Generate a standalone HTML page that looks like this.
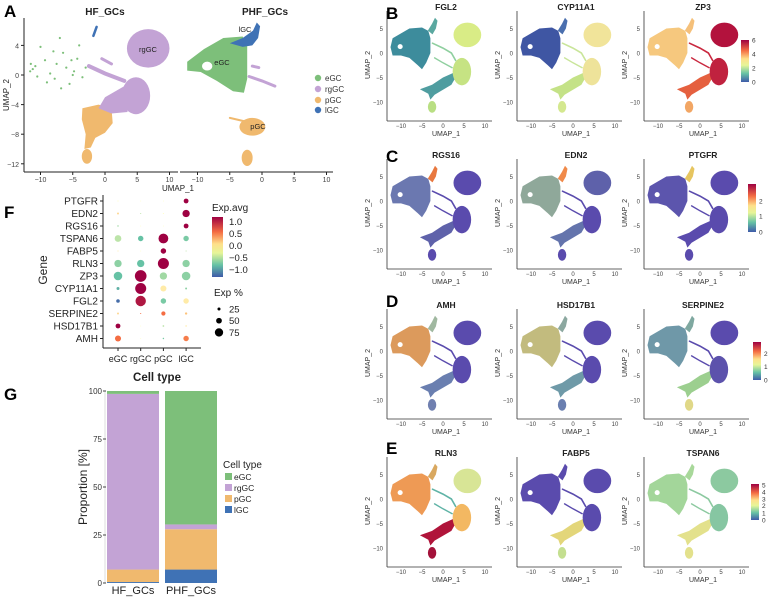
<!DOCTYPE html>
<html><head><meta charset="utf-8">
<style>
html,body{margin:0;padding:0;background:#fff;}
svg{display:block;font-family:"Liberation Sans",Arial,sans-serif;}
</style></head>
<body>
<svg id="fig" width="768" height="597" viewBox="0 0 768 597" xmlns="http://www.w3.org/2000/svg">
<defs>
<linearGradient id="spec" x1="0" y1="1" x2="0" y2="0">
<stop offset="0" stop-color="#3f5ba9"/><stop offset="0.2" stop-color="#66c2a5"/><stop offset="0.4" stop-color="#e6f598"/><stop offset="0.55" stop-color="#fee08b"/><stop offset="0.75" stop-color="#f46d43"/><stop offset="1" stop-color="#9e0142"/>
</linearGradient>
</defs>
<g id="panelA"></g>
<g id="umaps"></g>
<g id="dotplot"></g>
<g id="barchart"></g>
<g font-weight="bold" font-size="17" fill="#000">
<text x="4" y="17">A</text>
<text x="386" y="19">B</text>
<text x="386" y="162">C</text>
<text x="386" y="307">D</text>
<text x="386" y="454">E</text>
<text x="4" y="218">F</text>
<text x="4" y="400">G</text>
</g>
</svg>
<script>
// ---- Panel F data ----
const fGenes = ["PTGFR","EDN2","RGS16","TSPAN6","FABP5","RLN3","ZP3","CYP11A1","FGL2","SERPINE2","HSD17B1","AMH"];
const fCells = ["eGC","rgGC","pGC","lGC"];
const fPct = [
 [5,3,3,35],[12,5,5,55],[8,3,3,35],[50,40,75,40],[5,3,40,5],[55,55,85,55],
 [65,90,55,65],[20,85,45,12],[25,80,40,40],[12,5,30,15],[35,3,10,8],[45,3,8,40]];
const fAvg = [
 [0,0,0,1.3],[0.2,-0.2,0,1.3],[-0.3,0,0,1.3],[-0.2,-0.6,1.3,-0.5],[0.1,0,1.3,-0.2],[-0.4,-0.6,1.3,-0.4],
 [-0.6,1.3,-0.3,-0.4],[-0.7,1.3,0.1,-0.4],[-1.1,1.2,-0.5,0.1],[0.2,0.8,0.8,0.3],[1.3,0,-0.2,0.1],[0.8,0,-0.5,0.7]];
const fColorTicks = [1.0,0.5,0.0,-0.5,-1.0];
const fSizeTicks = [25,50,75];
// ---- Panel G data ----
const gSamples = ["HF_GCs","PHF_GCs"];
const gTypes = ["lGC","pGC","rgGC","eGC"];
const gValues = { lGC:[0.5,7], pGC:[6.5,21], rgGC:[91.5,2.5], eGC:[1.5,69.5] };
const gTicks = [0,25,50,75,100];

const NS="http://www.w3.org/2000/svg";
function mk(parent,tag,attrs,text){const e=document.createElementNS(NS,tag);for(const k in attrs)e.setAttribute(k,attrs[k]);if(text!==undefined)e.textContent=text;parent.appendChild(e);return e;}

const CT={eGC:"#7dbf7a",rgGC:"#c3a3d5",pGC:"#f0b96e",lGC:"#3f72b5"};

// ---------- Panel A ----------
const A=document.getElementById('panelA');
function axesA(x0,left,right){return {sx:u=>x0+u*6.45, sy:v=>75-v*7.4, left, right};}
function poly(g,ax,pts,fill,name){const d=pts.map((p,i)=>(i?'L':'M')+ax.sx(p[0]).toFixed(1)+','+ax.sy(p[1]).toFixed(1)).join('')+'Z';const e=mk(g,'path',{d,fill});return e;}
function ell(g,ax,cx,cy,rx,ry,fill,name,sx,sy){const e=mk(g,'ellipse',{cx:ax.sx(cx),cy:ax.sy(cy),rx:rx*sx,ry:ry*sy,fill});return e;}
function strip(g,ax,pts,color,w,name){const d=pts.map((p,i)=>(i?'L':'M')+ax.sx(p[0]).toFixed(1)+','+ax.sy(p[1]).toFixed(1)).join('');const e=mk(g,'path',{d,stroke:color,'stroke-width':w,fill:'none','stroke-linecap':'round'});}

const hf=axesA(105,24,178), phf=axesA(262,180,333);
poly(A,hf,[[-3.5,-4.5],[-1,-4],[1,-4.5],[1.2,-6.5],[0,-7.8],[-1.5,-8.5],[-2.2,-9.8],[-3.2,-10],[-3,-8],[-3.6,-6]],CT.pGC,'hf-pgc-cluster');
ell(A,hf,-2.8,-11,0.8,1,CT.pGC,'hf-pgc-bottom',6.45,7.4);
ell(A,hf,6.7,3.6,3.3,2.6,CT.rgGC,'hf-rggc-top',6.45,7.4);
ell(A,hf,4.8,-2.8,2.2,2.5,CT.rgGC,'hf-rggc-mid',6.45,7.4);
poly(A,hf,[[0,-3],[3,-1.5],[3.5,-5],[1,-5.2],[-1,-4.5]],CT.rgGC,'hf-rggc-arm');
strip(A,hf,[[-2.5,1.2],[0,0.2],[3,-0.8]],CT.rgGC,4,'hf-rggc-strip');
strip(A,hf,[[-0.5,2.2],[1,1.5]],CT.rgGC,3,'hf-rggc-strip2');
strip(A,hf,[[-1.8,5.3],[-1.3,6.5]],CT.lGC,2.5,'hf-lgc-cluster');
const hfDots=[[-11.5,1.5],[-11.2,0.8],[-11.6,0.5],[-10,3.8],[-9.3,2],[-8.5,0.2],[-7.8,-0.5],[-7,5],[-6.5,3],[-6,1],[-5.5,-1.2],[-4.8,0.5],[-4.3,2.2],[-3.5,-0.3],[-9,-1],[-10.5,-0.2],[-6.8,-1.8],[-4,4],[-8,3.2],[-5.2,2],[-3,1],[-10.8,1.2],[-7.5,1.5],[-5,0]];
hfDots.forEach(p=>{const c=mk(A,'circle',{cx:hf.sx(p[0]),cy:hf.sy(p[1]),r:1.1,fill:CT.eGC});});
poly(A,phf,[[-11.6,1.8],[-9,3.5],[-6,5],[-3,5.2],[-2.3,4],[-2.3,-0.5],[-2.8,-2.4],[-4.5,-2.2],[-7,-0.8],[-9.5,0.4],[-11.6,0.6]],CT.eGC,'phf-egc-cluster');
ell(A,phf,-8.5,1.2,0.8,0.6,'#fff','phf-egc-hole',6.45,7.4);
poly(A,phf,[[-5,4.3],[-3,5],[-1.4,6],[-0.8,7.1],[-0.3,6.6],[-0.6,5],[-1.5,4],[-3,3.8]],CT.lGC,'phf-lgc-cluster');
ell(A,phf,-1.5,-7,2,1.2,CT.pGC,'phf-pgc-cluster',6.45,7.4);
strip(A,phf,[[-5,-5.8],[-2.5,-6.3]],CT.pGC,2,'phf-pgc-tail');
ell(A,phf,-2.3,-11.2,0.85,1.1,CT.pGC,'phf-pgc-bottom',6.45,7.4);
strip(A,phf,[[-2,-0.2],[0,-0.8],[2,-1.5]],CT.rgGC,3,'phf-rggc-strip');
strip(A,phf,[[-1.5,1.2],[-0.5,1]],CT.rgGC,3,'phf-rggc-strip2');
const aAx=mk(A,'g',{stroke:'#222','stroke-width':1});

mk(aAx,'line',{x1:24,y1:18,x2:24,y2:172});
mk(aAx,'line',{x1:24,y1:172,x2:178,y2:172});
mk(aAx,'line',{x1:180,y1:172,x2:333,y2:172});
[4,0,-4,-8,-12].forEach(v=>{mk(aAx,'line',{x1:21,x2:24,y1:hf.sy(v),y2:hf.sy(v)});const t=mk(A,'text',{x:19,y:hf.sy(v)+3,'font-size':7,'text-anchor':'end',fill:'#444'},v===0?'0':(v<0?'−'+(-v):v));});
[[hf],[phf]].forEach(([ax])=>{[-10,-5,0,5,10].forEach(v=>{mk(aAx,'line',{x1:ax.sx(v),x2:ax.sx(v),y1:172,y2:175});const t=mk(A,'text',{x:ax.sx(v),y:182,'font-size':7,'text-anchor':'middle',fill:'#444'},v<0?'−'+(-v):v);});});
function lbl(g,x,y,s,txt,name,extra){const t=mk(g,'text',Object.assign({x,y,'font-size':s,'text-anchor':'middle',fill:'#222'},extra||{}),txt);return t;}
lbl(A,105,15,10,'HF_GCs','hf-title',{'font-weight':'bold'});
lbl(A,265,15,10,'PHF_GCs','phf-title',{'font-weight':'bold'});
lbl(A,178,191,8,'UMAP_1','a-x-axis-title');
lbl(A,0,0,8,'UMAP_2','a-y-axis-title',{transform:'translate(9,95) rotate(-90)'});
lbl(A,148,52,7.5,'rgGC','label-rggc');
lbl(A,222,65,7.5,'eGC','label-egc');
lbl(A,245,32,7.5,'lGC','label-lgc');
lbl(A,258,129,7.5,'pGC','label-pgc');
[['eGC',78],['rgGC',89],['pGC',100],['lGC',110]].forEach(([k,y])=>{const c=mk(A,'circle',{cx:318,cy:y,r:3.2,fill:CT[k]});const t=mk(A,'text',{x:325,y:y+3,'font-size':8,fill:'#333'},k);});

// ---------- Gene UMAP panels ----------
const U=document.getElementById('umaps');
const rowsY0=[53,201,351,499];
const colsX0=[443,573,700];
const P='#5a4bad';
const panels=[
 ['FGL2',{left:'#3d8c9c',spike:'#5aa8a0',top:'#d9ec86',mid:'#c6e383',bridge:'#8fcf9f',arm:'#4f9da0',bottom:'#b9df83'}],
 ['CYP11A1',{left:'#3f56a3',spike:'#4b6fae',top:'#f1e49a',mid:'#eee39a',bridge:'#c9e59a',arm:'#c4e287',bottom:'#d4e88f'}],
 ['ZP3',{left:'#f6c87e',spike:'#f5c07a',top:'#b3123d',mid:'#c0223f',bridge:'#c9283f',arm:'#e5603f',bottom:'#f2a664'}],
 ['RGS16',{left:'#6b78b0',spike:'#e8783f',top:P,mid:P,bridge:P,arm:'#5f62aa',bottom:P}],
 ['EDN2',{left:'#8fa89a',spike:'#f08a4a',top:'#5e61aa',mid:P,bridge:P,arm:'#6474ac',bottom:P}],
 ['PTGFR',{left:'#5c55ad',spike:'#e6c560',top:P,mid:P,bridge:P,arm:P,bottom:P}],
 ['AMH',{left:'#dc9a5c',spike:'#a0b8a0',top:P,mid:P,bridge:P,arm:'#6a7fb0',bottom:'#7080b0'}],
 ['HSD17B1',{left:'#c2bb7e',spike:'#8ca8a0',top:P,mid:P,bridge:P,arm:'#6f9aa8',bottom:'#6a7fb0'}],
 ['SERPINE2',{left:'#6f98a8',spike:'#7fa8a0',top:P,mid:'#5c52ac',bridge:P,arm:'#9ccf8f',bottom:'#e0d888'}],
 ['RLN3',{left:'#ee9a55',spike:'#d9a860',top:'#d8e596',mid:'#f3b862',bridge:'#5fb3a6',arm:'#b0143a',bottom:'#a3123a'}],
 ['FABP5',{left:P,spike:P,top:P,mid:P,bridge:P,arm:'#e3d67a',bottom:'#c4df90'}],
 ['TSPAN6',{left:'#a3d69a',spike:'#a8d89a',top:'#8cc9a0',mid:'#86c6a2',bridge:'#8cc9a0',arm:'#e3e18c',bottom:'#e3e18c'}]
];
const cbars=[{y:40,h:42,x:741,ticks:[['6',0],['4',0.33],['2',0.67],['0',1]]},
 {y:184,h:48,x:748,ticks:[['2',0.35],['1',0.67],['0',1]]},
 {y:342,h:38,x:753,ticks:[['2',0.3],['1',0.65],['0',1]]},
 {y:484,h:36,x:751,ticks:[['5',0.03],['4',0.22],['3',0.42],['2',0.6],['1',0.8],['0',1]]}];
panels.forEach((pp,i)=>{
 const r=Math.floor(i/3),c=i%3,x0=colsX0[c],y0=rowsY0[r];
 const ax={sx:u=>x0+u*4.2,sy:v=>y0-v*4.9};
 const g=mk(U,'g',{});
 const col=pp[1];
 strip(g,ax,[[-2.5,2],[0,1],[2,0],[3,-1.5]],col.bridge,1.6,'umap-bridge');
 strip(g,ax,[[-2,-1],[0,-2],[2.2,-3]],col.bridge,1.4,'umap-bridge2');
 poly(g,ax,[[3,-5],[2,-6.5],[0,-7.5],[-2,-8.5],[-3,-9.5],[-3.5,-8.3],[-5.5,-7.4],[-2.6,-6.5],[0,-5],[2.6,-4]],col.arm,'umap-arm');
 ell(g,ax,-2.6,-11,1,1.2,col.bottom,'umap-bottom-cluster',4.2,4.9);
 ell(g,ax,4.5,-3.8,2.2,2.8,col.mid,'umap-mid-cluster',4.2,4.9);
 ell(g,ax,5.8,3.7,3.3,2.5,col.top,'umap-top-cluster',4.2,4.9);
 poly(g,ax,[[-12.5,1.2],[-12,3],[-10,4],[-8,5],[-5,5.2],[-3.5,4.5],[-3,3],[-3,0],[-4,-2],[-5,-3.3],[-6,-2.5],[-8,-1],[-10,-0.5],[-12,-0.5]],col.left,'umap-left-cluster');
 ell(g,ax,-10.2,1.3,0.6,0.5,'#fff','umap-left-hole',4.2,4.9);
 poly(g,ax,[[-3.6,4.6],[-2.6,6],[-1.9,7.2],[-1.3,6.6],[-1.7,5],[-2.5,3.8]],col.spike,'umap-spike');
 const axg=mk(g,'g',{stroke:'#333','stroke-width':0.8});
 const L=x0-56,R=x0+49,B=y0+68,T=y0-42;
 mk(axg,'line',{x1:L,y1:T,x2:L,y2:B});mk(axg,'line',{x1:L,y1:B,x2:R,y2:B});
 [5,0,-5,-10].forEach(v=>{lbl(g,L-4,ax.sy(v)+2.5,6,v<0?'−'+(-v):v,'umap-y-tick',{'text-anchor':'end',fill:'#444'});});
 [-10,-5,0,5,10].forEach(v=>{lbl(g,ax.sx(v),B+7,6,v<0?'−'+(-v):v,'umap-x-tick',{fill:'#444'});});
 lbl(g,x0+3,y0-43,8.5,pp[0],'umap-title',{'font-weight':'bold'});
 lbl(g,x0+3,B+15,7,'UMAP_1','umap-x-axis-title',{fill:'#333'});
 lbl(g,0,0,7,'UMAP_2','umap-y-axis-title',{fill:'#333',transform:`translate(${L-17},${y0+12}) rotate(-90)`});
 if(c===2){const cb=cbars[r];const rct=mk(g,'rect',{x:cb.x,y:cb.y,width:8,height:cb.h,fill:'url(#spec)'});
  cb.ticks.forEach(([t,f])=>lbl(g,cb.x+11,cb.y+f*cb.h+2.5,6.5,t,'colorbar-tick',{'text-anchor':'start',fill:'#333'}));}
});

// ---------- Panel F dot plot ----------
const F=document.getElementById('dotplot');
const fx=i=>118+i*22.7, fy=i=>201+i*12.5;
function specColor(v){const st=[[-1.2,[63,91,169]],[-0.6,[102,194,165]],[-0.25,[171,221,164]],[0,[255,255,191]],[0.4,[253,174,97]],[0.8,[244,109,67]],[1.3,[158,1,66]]];
 if(v<=st[0][0])return 'rgb('+st[0][1]+')';for(let k=1;k<st.length;k++){if(v<=st[k][0]){const a=st[k-1],b=st[k],t=(v-a[0])/(b[0]-a[0]);return 'rgb('+a[1].map((x,j)=>Math.round(x+(b[1][j]-x)*t)).join(',')+')';}}return 'rgb('+st[st.length-1][1]+')';}
const rad=p=>0.062*p+0.25;
mk(F,'line',{x1:103,y1:195,x2:103,y2:348,stroke:'#222','stroke-width':1});
mk(F,'line',{x1:103,y1:348,x2:201,y2:348,stroke:'#222','stroke-width':1});
fGenes.forEach((gname,i)=>{
 lbl(F,98,fy(i)+3.5,10,gname,'gene-label',{'text-anchor':'end',fill:'#222'});
 mk(F,'line',{x1:100,x2:103,y1:fy(i),y2:fy(i),stroke:'#222'});
 fCells.forEach((cn,j)=>{const d=mk(F,'circle',{cx:fx(j),cy:fy(i),r:rad(fPct[i][j]),fill:specColor(fAvg[i][j])});
  
  });
});
fCells.forEach((cn,j)=>{mk(F,'line',{x1:fx(j),x2:fx(j),y1:348,y2:351,stroke:'#222'});lbl(F,fx(j),362,9,cn,'cell-type-label',{fill:'#222'});});
lbl(F,0,0,12,'Gene','f-y-axis-title',{transform:'translate(47,270) rotate(-90)',fill:'#222'});
lbl(F,212,211,10,'Exp.avg','exp-avg-legend-title',{'text-anchor':'start',fill:'#222'});
const fr=mk(F,'rect',{x:212,y:217,width:11,height:60,fill:'url(#spec)'});
fColorTicks.forEach(v=>{const y=272-(v+1.0)/2.3*55+ -2;lbl(F,229,y+3,9.5,v.toFixed(1).replace('-','−'),'exp-avg-tick',{'text-anchor':'start',fill:'#222'});});
lbl(F,214,296,10,'Exp %','exp-pct-legend-title',{'text-anchor':'start',fill:'#222'});
fSizeTicks.forEach((v,k)=>{const y=309+k*11.7;const d=mk(F,'circle',{cx:219,cy:y,r:rad(v)*0.85,fill:'#000'});lbl(F,229,y+3.5,9.5,String(v),'size-legend-label',{'text-anchor':'start',fill:'#222'});});

// ---------- Panel G stacked bar ----------
const G=document.getElementById('barchart');
const gy=v=>583-v*1.92;
const gx=[107,165], gw=52;
gSamples.forEach((s,i)=>{let acc=0;gTypes.forEach(t=>{const v=gValues[t][i];const r=mk(G,'rect',{x:gx[i],y:gy(acc+v),width:gw,height:gy(acc)-gy(acc+v),fill:CT[t]});
 
 acc+=v;});
 lbl(G,gx[i]+gw/2,594,11,s,'g-x-tick-label',{fill:'#222'});});
mk(G,'line',{x1:105,y1:gy(100),x2:105,y2:gy(0),stroke:'#bbb','stroke-width':0.5});
gTicks.forEach(v=>{mk(G,'line',{x1:103,x2:106,y1:gy(v),y2:gy(v),stroke:'#444'});lbl(G,102,gy(v)+3,8,String(v),'g-y-tick-label',{'text-anchor':'end',fill:'#333'});});
lbl(G,157,381,11.5,'Cell type','g-title',{'font-weight':'bold',fill:'#222'});
lbl(G,0,0,12,'Proportion [%]','g-y-axis-title',{transform:'translate(87,487) rotate(-90)',fill:'#222'});
lbl(G,223,468,10,'Cell type','g-legend-title',{'text-anchor':'start',fill:'#222'});
[['eGC',477],['rgGC',488],['pGC',499],['lGC',510]].forEach(([t,y])=>{const r=mk(G,'rect',{x:225,y:y-4,width:7,height:7,fill:CT[t]});lbl(G,234,y+3,8.5,t,'g-legend-label',{'text-anchor':'start',fill:'#222'});});
</script>
</body></html>
